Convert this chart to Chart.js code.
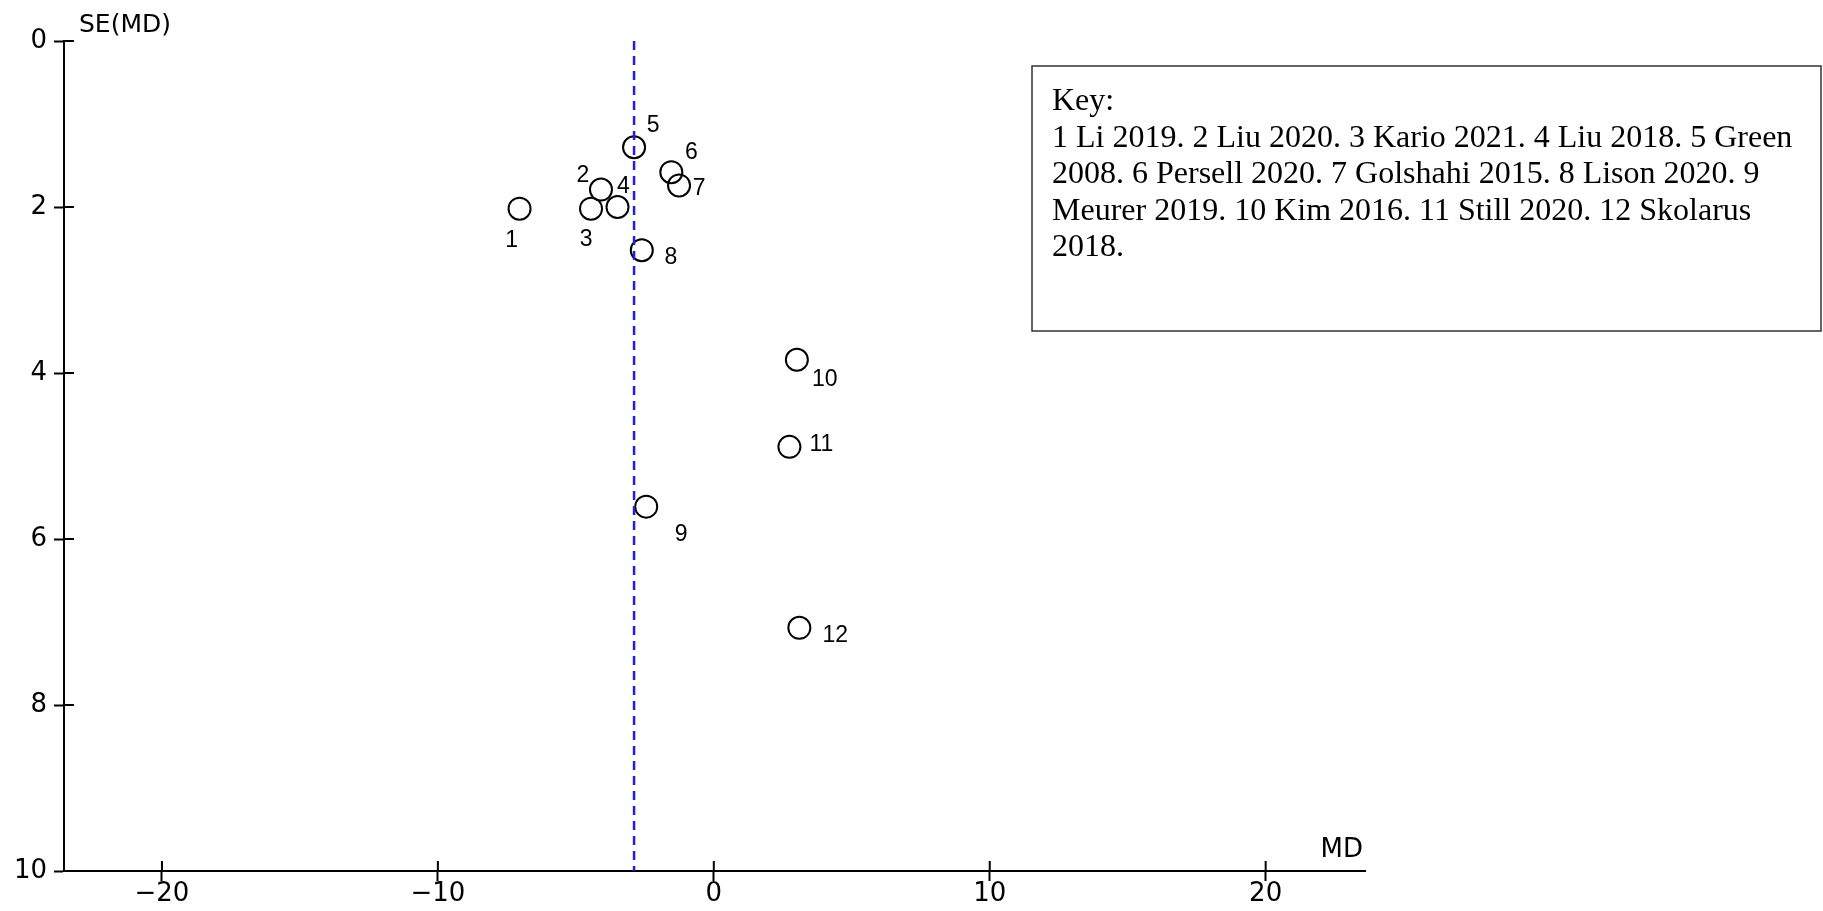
<!DOCTYPE html>
<html>
<head>
<meta charset="utf-8">
<script src="https://cdn.jsdelivr.net/npm/chart.js@4.4.1/dist/chart.umd.min.js"></script>
<style>
  html, body { margin: 0; padding: 0; background: #fff; }
  #wrap { width: 1823px; height: 911px; position: relative; }
</style>
</head>
<body>
<div id="wrap"><canvas id="funnel"></canvas></div>
<script>
// study numbers, mean difference and its standard error
const studyIds = [1, 2, 3, 4, 5, 6, 7, 8, 9, 10, 11, 12];
const mdValues = [-7.04, -4.09, -4.45, -3.49, -2.89, -1.54, -1.26, -2.61, -2.45, 3.01, 2.74, 3.10];
const seValues = [2.02, 1.79, 2.02, 2.00, 1.28, 1.58, 1.74, 2.52, 5.61, 3.84, 4.89, 7.07];
const pooledMD = -2.89;

const xTicks = [-20, -10, 0, 10, 20];
const yTicks = [0, 2, 4, 6, 8, 10];

const keyLines = [
    'Key:',
    '1 Li 2019. 2 Liu 2020. 3 Kario 2021. 4 Liu 2018. 5 Green',
    '2008. 6 Persell 2020. 7 Golshahi 2015. 8 Lison 2020. 9',
    'Meurer 2019. 10 Kim 2016. 11 Still 2020. 12 Skolarus',
    '2018.'
];

// where each study number sits relative to its circle
const labelOffsets = [
    [-8, 32], [-18, -14], [-5, 31], [6, -20], [19, -22], [20, -19],
    [20, 3], [29, 7], [35, 28], [28, 20], [32, -2], [36, 8]
];

const tickFont = { family: 'DejaVu Sans', size: 26 };

const annotations = {
    id: 'annotations',
    afterDraw(chart) {
        const ctx = chart.ctx;
        const area = chart.chartArea;
        const xs = chart.scales.x;
        const ys = chart.scales.y;
        ctx.save();

        // inner half of the tick marks
        ctx.strokeStyle = '#000';
        ctx.lineWidth = 2;
        ctx.beginPath();
        yTicks.forEach(v => {
            const py = ys.getPixelForValue(v);
            ctx.moveTo(area.left, py);
            ctx.lineTo(area.left + 10, py);
        });
        xTicks.forEach(v => {
            const px = xs.getPixelForValue(v);
            ctx.moveTo(px, area.bottom);
            ctx.lineTo(px, area.bottom - 10);
        });
        ctx.stroke();

        // axis titles
        ctx.fillStyle = '#000';
        ctx.font = '25px "DejaVu Sans"';
        ctx.textAlign = 'left';
        ctx.textBaseline = 'alphabetic';
        ctx.fillText('SE(MD)', area.left + 15, 32);
        ctx.font = '26px "DejaVu Sans"';
        ctx.textAlign = 'right';
        ctx.fillText('MD', area.right - 2, area.bottom - 14);

        // study numbers
        const meta = chart.getDatasetMeta(1);
        ctx.font = '23px "Liberation Sans"';
        ctx.textAlign = 'center';
        ctx.textBaseline = 'middle';
        meta.data.forEach((pt, i) => {
            const off = labelOffsets[i];
            ctx.fillText(String(studyIds[i]), pt.x + off[0], pt.y + off[1]);
        });

        // key box
        ctx.strokeStyle = '#333';
        ctx.lineWidth = 1.5;
        ctx.strokeRect(1032, 66, 789, 265);
        ctx.font = '32px "Liberation Serif"';
        ctx.textAlign = 'left';
        ctx.textBaseline = 'alphabetic';
        keyLines.forEach((line, i) => {
            ctx.fillText(line, 1052, 110 + i * 36.5);
        });
        ctx.restore();
    }
};

const ctx = document.getElementById('funnel');
new Chart(ctx, {
    type: 'scatter',
    data: {
        datasets: [
            {
                type: 'line',
                data: [{ x: pooledMD, y: 0 }, { x: pooledMD, y: 10 }],
                borderColor: '#1f1fdc',
                borderWidth: 2.5,
                borderDash: [9, 6],
                pointRadius: 0,
                fill: false
            },
            {
                data: studyIds.map((id, i) => ({ x: mdValues[i], y: seValues[i] })),
                pointRadius: 11,
                pointHoverRadius: 11,
                pointBorderWidth: 2,
                borderColor: '#000',
                backgroundColor: 'rgba(0,0,0,0)'
            }
        ]
    },
    options: {
        responsive: true,
        maintainAspectRatio: false,
        animation: false,
        events: [],
        layout: { padding: { top: 41, right: 458, left: 0, bottom: 0 } },
        plugins: {
            legend: { display: false },
            tooltip: { enabled: false }
        },
        scales: {
            x: {
                type: 'linear',
                min: -23.55,
                max: 23.6,
                afterBuildTicks: s => { s.ticks = xTicks.map(v => ({ value: v })); },
                afterFit: s => { s.height = 40; },
                ticks: {
                    font: tickFont,
                    color: '#000',
                    padding: -2,
                    maxRotation: 0,
                    callback: v => String(v).replace('-', '\u2212')
                },
                grid: { drawOnChartArea: false, tickLength: 10, tickWidth: 2, tickColor: '#000' },
                border: { color: '#000', width: 2 }
            },
            y: {
                type: 'linear',
                reverse: true,
                min: 0,
                max: 10,
                afterBuildTicks: s => { s.ticks = yTicks.map(v => ({ value: v })); },
                afterFit: s => { s.width = 64; },
                ticks: { font: tickFont, color: '#000', padding: 7 },
                grid: { drawOnChartArea: false, tickLength: 10, tickWidth: 2, tickColor: '#000' },
                border: { color: '#000', width: 2 }
            }
        }
    },
    plugins: [annotations]
});
</script>
</body>
</html>
